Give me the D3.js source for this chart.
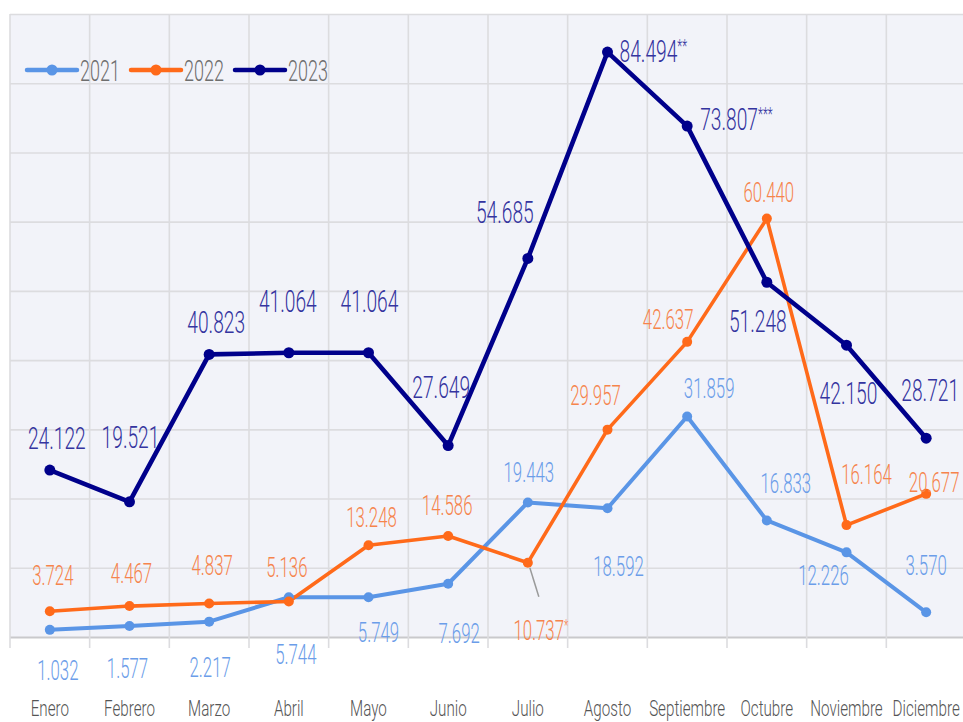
<!DOCTYPE html>
<html>
<head>
<meta charset="utf-8">
<script src="https://cdn.jsdelivr.net/npm/d3@7"></script>
<style>
  html, body { margin: 0; padding: 0; background: #ffffff; }
  svg { display: block; font-family: Roboto, "Liberation Sans", Arial, sans-serif; font-weight: 300; }
</style>
</head>
<body>
<svg id="chart" width="963" height="722"></svg>
<script>
// ---- data ----
const months = ["Enero","Febrero","Marzo","Abril","Mayo","Junio","Julio","Agosto","Septiembre","Octubre","Noviembre","Diciembre"];
const seriesNames = ["2021","2022","2023"];
const values2021 = [1.032, 1.577, 2.217, 5.744, 5.749, 7.692, 19.443, 18.592, 31.859, 16.833, 12.226, 3.570];
const values2022 = [3.724, 4.467, 4.837, 5.136, 13.248, 14.586, 10.737, 29.957, 42.637, 60.440, 16.164, 20.677];
const values2023 = [24.122, 19.521, 40.823, 41.064, 41.064, 27.649, 54.685, 84.494, 73.807, 51.248, 42.150, 28.721];
const notes2021 = ["","","","","","","","","","","",""];
const notes2022 = ["","","","","","","*","","","","",""];
const notes2023 = ["","","","","","","","**","***","","",""];
const yTicks = [0,10,20,30,40,50,60,70,80,90];

// ---- label placement (offsets from point, px) ----
const offs2021 = [[8,40],[-2,42],[1,45],[7,57],[10,35],[11,49],[1,-30],[11,58],[22,-29],[19,-38],[-23,23],[0,-47]];
const offs2022 = [[3,-36],[2,-33],[3,-39],[-2,-35],[3,-28],[-1,-31],[13,67],[-12,-35],[-19,-23],[2,-27],[20,-51],[8,-12]];
const offs2023 = [[7,-33],[1,-65],[7,-33],[-1,-52],[1,-52],[-7,-59],[-23,-47],[12,-2,"start"],[13,-8,"start"],[-9,38],[2,47],[4,-49]];

const styles = {
  "2021": {line:"#5a95e6", label:"#6b9de9", width:4, r:5, font:28},
  "2022": {line:"#ff6a1a", label:"#f6844c", width:3.6, r:5, font:28},
  "2023": {line:"#00008b", label:"#34349f", width:4.6, r:5.5, font:32}
};

const series = [
  {name:"2021", values:values2021, notes:notes2021, offs:offs2021},
  {name:"2022", values:values2022, notes:notes2022, offs:offs2022},
  {name:"2023", values:values2023, notes:notes2023, offs:offs2023}
];

const svg = d3.select("#chart");
const plot = {left:10, right:966, top:14, bottom:637};

const x = d3.scaleBand().domain(months).range([plot.left, plot.right]).paddingInner(0).paddingOuter(0);
const y = d3.scaleLinear().domain([0, 90]).range([plot.bottom, plot.top]);
const cx = m => x(m) + x.bandwidth()/2;

// background
svg.append("rect")
  .attr("x", plot.left).attr("y", plot.top)
  .attr("width", plot.right - plot.left).attr("height", plot.bottom - plot.top)
  .attr("fill", "#f2f3f9");

// horizontal grid
const gy = svg.append("g").attr("transform", `translate(${plot.left},0)`)
  .call(d3.axisLeft(y).tickValues(yTicks).tickSize(-(plot.right-plot.left)).tickFormat(""));
gy.select(".domain").remove();
gy.selectAll(".tick line").attr("stroke", "#dcdcdf").attr("stroke-width", 1.6);
gy.selectAll(".tick").filter(d => d === 0).select("line").attr("stroke", "#c9c9cc").attr("stroke-width", 2);

// vertical grid at band boundaries
const bounds = months.map(m => x(m)).concat([plot.right]);
svg.append("g").selectAll("line").data(bounds).join("line")
  .attr("x1", d => d).attr("x2", d => d)
  .attr("y1", plot.top).attr("y2", plot.bottom + 11)
  .attr("stroke", "#dcdcdf").attr("stroke-width", 1.6);

// month labels
const gx = svg.append("g").attr("transform", `translate(0,${plot.bottom})`)
  .call(d3.axisBottom(x).tickSize(0).tickPadding(0));
gx.select(".domain").remove();
gx.selectAll(".tick text")
  .attr("y", 0).attr("dy", 0)
  .attr("transform", "translate(0,79) scale(0.69,1)")
  .attr("font-size", 22)
  .attr("font-family", "Roboto, 'Liberation Sans', Arial, sans-serif")
  .attr("font-weight", 300)
  .attr("fill", "#555555");

// lines
const lineGen = d3.line().x((d,i) => cx(months[i])).y(d => y(d));
series.forEach(s => {
  const st = styles[s.name];
  svg.append("path").datum(s.values)
    .attr("d", lineGen).attr("fill", "none")
    .attr("stroke", st.line).attr("stroke-width", st.width)
    .attr("stroke-linejoin", "round").attr("stroke-linecap", "round");
});

// leader line for Julio 2022
{
  const px = cx("Julio"), py = y(values2022[6]);
  svg.append("line")
    .attr("x1", px + 2).attr("y1", py + 5)
    .attr("x2", px + 11).attr("y2", py + 34)
    .attr("stroke", "#9a9a9a").attr("stroke-width", 1.5);
}

// markers
series.forEach(s => {
  const st = styles[s.name];
  svg.append("g").selectAll("circle").data(s.values).join("circle")
    .attr("cx", (d,i) => cx(months[i])).attr("cy", d => y(d))
    .attr("r", st.r).attr("fill", st.line);
});

// data labels
const fmt = d3.format(".3f");
series.forEach(s => {
  const st = styles[s.name];
  const g = svg.append("g");
  s.values.forEach((v,i) => {
    const o = s.offs[i];
    const tx = cx(months[i]) + o[0];
    const ty = y(v) + o[1] + st.font * 0.36;
    const t = g.append("text")
      .attr("transform", `translate(${tx},${ty}) scale(0.6,1)`)
      .attr("text-anchor", o[2] || "middle")
      .attr("font-size", st.font)
      .attr("fill", st.label)
      .text(fmt(v));
    if (s.notes[i]) {
      t.append("tspan").attr("font-size", st.font * 0.6).attr("dy", -st.font * 0.3).text(s.notes[i]);
    }
  });
});

// legend
const lg = svg.append("g").attr("transform", "translate(27,70)");
seriesNames.forEach((n,i) => {
  const st = styles[n];
  const gi = lg.append("g").attr("transform", `translate(${i*104},0)`);
  gi.append("line").attr("x1", 0).attr("x2", 50).attr("y1", 0).attr("y2", 0)
    .attr("stroke", st.line).attr("stroke-width", 4.5).attr("stroke-linecap", "round");
  gi.append("circle").attr("cx", 25).attr("cy", 0).attr("r", 5.5).attr("fill", st.line);
  gi.append("text").attr("transform", "translate(53,10.5) scale(0.6,1)")
    .attr("font-size", 30).attr("fill", "#6e6e6e").text(n);
});
</script>
</body>
</html>
